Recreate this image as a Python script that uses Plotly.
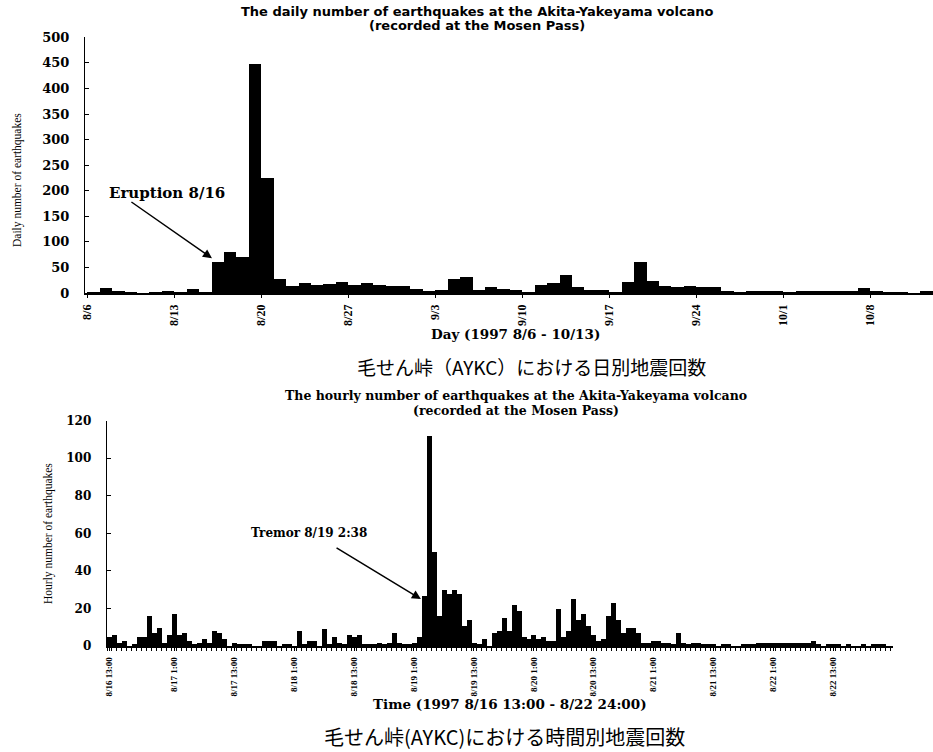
import plotly.graph_objects as go

# ---------------- data ----------------
day_tick_labels = ["8/6", "8/13", "8/20", "8/27", "9/3", "9/10", "9/17", "9/24", "10/1", "10/8"]
day_tick_index = [0, 7, 14, 21, 28, 35, 42, 49, 56, 63]

# daily counts 8/6 ... 10/12
daily_counts = [
    1, 10, 3, 1, 0, 1, 2, 1, 7, 1,          # 8/6 - 8/15
    61, 79, 69, 448, 224, 26, 14, 18, 15, 17,  # 8/16 - 8/25
    20, 15, 18, 16, 14, 14, 7, 4, 6, 27,    # 8/26 - 9/4
    30, 5, 11, 8, 6, 1, 15, 19, 35, 11,     # 9/5 - 9/14
    5, 5, 1, 20, 60, 23, 14, 12, 13, 12,    # 9/15 - 9/24
    11, 2, 1, 3, 4, 4, 1, 3, 3, 3,          # 9/25 - 10/4
    4, 4, 10, 2, 1, 1, 0, 3                 # 10/5 - 10/12
]

hour_tick_labels = ["8/16 13:00", "8/17 1:00", "8/17 13:00", "8/18 1:00", "8/18 13:00",
                    "8/19 1:00", "8/19 13:00", "8/20 1:00", "8/20 13:00", "8/21 1:00",
                    "8/21 13:00", "8/22 1:00", "8/22 13:00"]
hour_tick_index = [0, 13, 25, 37, 49, 61, 73, 85, 97, 109, 121, 133, 145]

hourly_counts = [
    5, 6, 2, 3, 0, 1, 5, 5, 16, 7, 10, 2, 6, 17, 6, 7, 3, 1, 2, 4,
    2, 8, 7, 4, 0, 2, 1, 1, 1, 0, 0, 3, 3, 3, 0, 1, 1, 0, 8, 1,
    3, 3, 0, 9, 1, 5, 2, 1, 6, 5, 6, 1, 1, 1, 2, 1, 2, 7, 2, 1,
    1, 2, 5, 27, 112, 50, 16, 30, 28, 30, 28, 11, 14, 2, 1, 4, 0, 7, 8, 15,
    8, 22, 19, 5, 4, 6, 4, 5, 3, 3, 20, 5, 8, 25, 14, 17, 11, 6, 3, 4,
    16, 23, 14, 7, 10, 10, 7, 2, 2, 3, 3, 2, 2, 1, 7, 2, 1, 2, 2, 1,
    1, 1, 0, 1, 1, 0, 0, 1, 1, 1, 2, 2, 2, 2, 2, 2, 2, 2, 2, 2,
    2, 3, 1, 0, 1, 1, 1, 0, 1, 0, 0, 1, 0, 1, 1, 1, 0
]

# ---------------- figure ----------------
W, H = 933, 752
def px(xa):
    return xa / W
def py(ya):
    return 1 - ya / H

day_x = [k + 0.5 for k in range(len(daily_counts))]
hour_x = [j + 0.5 for j in range(len(hourly_counts))]

fig = go.Figure()
fig.add_trace(go.Bar(x=day_x, y=daily_counts, width=1.0,
                     marker=dict(color="black", line=dict(width=0)),
                     xaxis="x", yaxis="y", hoverinfo="x+y"))
fig.add_trace(go.Bar(x=hour_x, y=hourly_counts, width=1.0,
                     marker=dict(color="black", line=dict(width=0)),
                     xaxis="x2", yaxis="y2", hoverinfo="x+y"))

serif_b = "DejaVu Serif"
narrow = "Liberation Serif"

fig.update_layout(
    width=W, height=H,
    margin=dict(l=0, r=0, t=0, b=0, pad=0, autoexpand=False),
    paper_bgcolor="white", plot_bgcolor="white",
    showlegend=False, bargap=0,
    xaxis=dict(domain=[px(85), 1.0], range=[-0.185, 68.04], anchor="y", automargin=False,
               tickmode="array", tickvals=day_tick_index, ticktext=day_tick_labels,
               tickangle=-90, ticks="outside", ticklen=3, tickcolor="black",
               showline=True, linecolor="black", linewidth=1.5,
               showgrid=False, zeroline=False,
               tickfont=dict(family=narrow, size=12, color="black", weight="bold"),
               ticklabelstandoff=2),
    yaxis=dict(domain=[py(293), py(37.3)], range=[0, 500], anchor="x", automargin=False,
               tickmode="linear", tick0=0, dtick=50,
               ticks="inside", ticklen=4, tickcolor="black",
               showline=True, linecolor="black", linewidth=1,
               showgrid=False, zeroline=False,
               tickfont=dict(family=serif_b, size=13, color="black", weight="bold"),
               ticklabelstandoff=12),
    xaxis2=dict(domain=[px(106.7), px(893)], range=[-0.06, 157.5], anchor="y2", automargin=False,
                tickmode="array", tickvals=[j + 0.5 for j in hour_tick_index],
                ticktext=hour_tick_labels,
                tickangle=-90, ticks="outside", ticklen=3, tickcolor="black",
                minor=dict(ticks="outside", ticklen=3, tick0=0, dtick=1, tickcolor="black"),
                showline=True, linecolor="black", linewidth=1.5,
                showgrid=False, zeroline=False,
                tickfont=dict(family=narrow, size=9, color="black", weight="bold"),
                ticklabelstandoff=3),
    yaxis2=dict(domain=[py(646), py(420.7)], range=[0, 120], anchor="x2", automargin=False,
                tickmode="linear", tick0=0, dtick=20,
                ticks="inside", ticklen=4, tickcolor="black",
                showline=True, linecolor="black", linewidth=1,
                showgrid=False, zeroline=False,
                tickfont=dict(family=serif_b, size=12, color="black", weight="bold"),
                ticklabelstandoff=12),
)

def txt(text, x, y, size, family, bold=True, angle=0):
    fig.add_annotation(text=text, x=px(x), y=py(y), xref="paper", yref="paper",
                       showarrow=False, textangle=angle, xanchor="center", yanchor="middle",
                       font=dict(family=family, size=size, color="black",
                                 weight="bold" if bold else "normal"))

# titles
txt("The daily number of earthquakes at the Akita-Yakeyama volcano", 478, 11, 13, "DejaVu Sans")
txt("(recorded at the Mosen Pass)", 477, 26, 13, "DejaVu Sans")
txt("The hourly number of earthquakes at the Akita-Yakeyama volcano", 516, 395, 12.5, serif_b)
txt("(recorded at the Mosen Pass)", 516, 410, 12.5, serif_b)

# axis titles
txt("Daily number of earthquakes", 17, 180, 11.5, narrow, bold=False, angle=-90)
txt("Day (1997 8/6 - 10/13)", 515, 334, 13.5, serif_b)
txt("Hourly number of earthquakes", 48, 534, 11.5, narrow, bold=False, angle=-90)
txt("Time (1997 8/16 13:00 - 8/22 24:00)", 510, 704, 13.5, serif_b)

# captions
txt("毛せん峠（AYKC）における日別地震回数", 531, 366, 19, "Noto Sans CJK JP", bold=False)
txt("毛せん峠(AYKC)における時間別地震回数", 504, 736, 20, "Noto Sans CJK JP", bold=False)

# event annotations
txt("Eruption 8/16", 167, 193, 15, serif_b)
fig.add_annotation(x=10.03, y=68, ax=3.43, ay=180, xref="x", yref="y", axref="x", ayref="y",
                   text="", showarrow=True, arrowhead=2, arrowsize=1.2, arrowwidth=1.5,
                   arrowcolor="black")
txt("Tremor 8/19 2:38", 309, 533, 12, serif_b)
fig.add_annotation(x=62.9, y=25, ax=45.7, ay=52.7, xref="x2", yref="y2", axref="x2", ayref="y2",
                   text="", showarrow=True, arrowhead=2, arrowsize=1.2, arrowwidth=1.5,
                   arrowcolor="black")

fig.write_html("out.html", config={"displayModeBar": False},
               post_script="document.body.style.margin='0';document.body.style.overflow='hidden';")
